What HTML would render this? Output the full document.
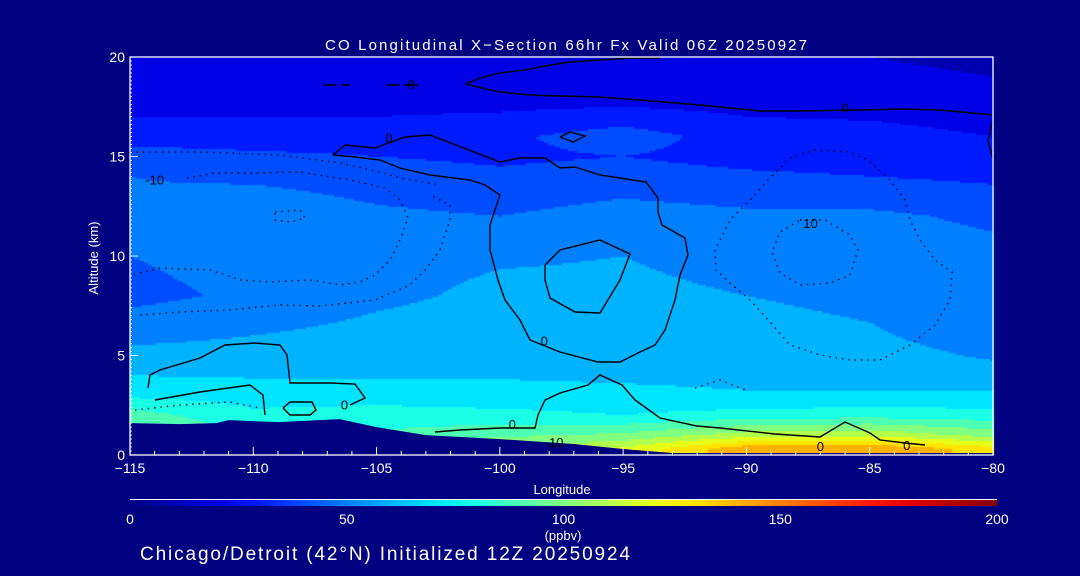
<!DOCTYPE html>
<html><head><meta charset="utf-8"><style>
html,body{margin:0;padding:0;background:#000080;}
#wrap{position:relative;width:1080px;height:576px;background:#000080;overflow:hidden;font-family:"Liberation Sans",sans-serif;}
canvas,svg{position:absolute;left:0;top:0;}
</style></head><body>
<div id="wrap">
<canvas id="field" width="1080" height="576"></canvas>
<svg id="svg" width="1080" height="576"></svg>
</div>
<script>
// ---- data ----
const lons = [-115,-110,-105,-100,-95,-90,-85,-80];
const alts = [20,18,16,15,14,12,10,8,6,5,4,3,2,1,0.3];
const coValues = [
 [22,22,22,22,22,22,20,18],
 [25,25,25,25,25,25,24,22],
 [35,35,35,38,45,35,34,30],
 [45,42,40,38,40,36,35,30],
 [50,48,45,42,45,42,40,38],
 [52,58,52,50,54,52,52,48],
 [50,54,57,59,60,57,56,53],
 [47,52,58,62,62,60,58,54],
 [57,60,63,65,64,63,61,56],
 [63,64,65,67,66,65,63,59],
 [70,69,69,69,68,67,65,63],
 [78,76,76,74,73,71,71,72],
 [95,82,84,83,80,84,86,84],
 [102,92,92,98,102,115,118,106],
 [100,100,100,112,122,148,150,135]
];
const terrainLons = [-115,-113,-111.5,-111,-109,-106.5,-105,-103,-100,-97,-95,-93,-80];
const terrainAlts = [1.6,1.55,1.6,1.75,1.65,1.8,1.4,1.0,0.8,0.55,0.3,0.1,0.1];
const xTicks = [-115,-110,-105,-100,-95,-90,-85,-80];
const yTicks = [0,5,10,15,20];
const cbTicks = [0,50,100,150,200];
const P = (a)=>a.map(p=>[-115+(p[0]-130)*35/863,(455-p[1])*20/398]);
const contourSolid = [
 P([[333,155],[345,145],[375,148],[405,137],[430,135],[500,162],[520,158],[545,158],[560,168],[575,167],[600,175],[620,178],[646,182],[658,198],[658,212],[662,225],[685,238],[688,255],[680,275],[675,300],[665,330],[655,345],[640,352],[620,362],[598,362],[560,352],[530,340],[520,320],[505,300],[498,280],[490,250],[490,225],[500,195],[485,185],[470,180],[430,175],[400,168],[380,160],[355,157],[333,155]]),
 P([[545,265],[560,250],[600,240],[630,254],[620,280],[600,313],[575,312],[550,298],[545,280],[545,265]]),
 P([[465,84],[480,78],[500,73],[525,70],[545,66],[570,62],[600,60],[630,58],[660,58]]),
 P([[465,84],[500,92],[530,95],[560,96],[600,97],[640,100],[700,105],[760,111],[800,111],[860,110],[900,109],[940,110],[993,115]]),
 P([[993,120],[988,140],[993,160]]),
 P([[148,388],[150,375],[160,370],[200,358],[225,345],[255,343],[280,345],[287,355],[290,383],[330,383],[355,384],[365,398],[350,405]]),
 P([[155,400],[200,392],[250,385],[263,395],[265,415]]),
 P([[283,408],[290,402],[312,402],[316,410],[310,415],[290,415],[283,408]]),
 P([[435,432],[460,430],[500,428],[535,428],[538,415],[545,400],[560,393],[588,385],[600,375],[622,385],[635,400],[660,418],[697,426],[720,428],[775,434],[820,437],[845,422],[870,433],[880,440],[905,443],[925,445]]),
 P([[560,137],[570,132],[585,136],[573,142],[560,137]])
];
const contourDashed = [P([[323,85],[350,85]]),P([[386,85],[420,85]])];
const contourDotted = [
 P([[790,158],[815,150],[848,152],[868,160],[890,180],[905,200],[910,220],[920,240],[935,260],[952,272],[950,300],[935,325],[910,345],[880,360],[850,360],[820,355],[790,345],[770,322],[750,300],[730,283],[716,270],[715,250],[730,220],[750,200],[768,180],[790,158]]),
 P([[800,220],[825,220],[850,235],[858,250],[850,275],[830,283],[800,285],[780,273],[772,252],[780,232],[800,220]]),
 P([[130,152],[200,152],[280,155],[340,163],[380,172],[400,178],[440,185]]),
 P([[187,178],[215,173],[250,173],[300,172],[350,180],[385,188],[400,200],[408,218],[400,240],[390,260],[375,275],[360,282],[340,285],[310,280],[270,282],[240,280],[210,270],[160,268],[132,275]]),
 P([[140,315],[180,312],[230,310],[280,305],[320,306],[375,300],[410,285],[425,270],[440,250],[450,220],[450,205],[430,195]]),
 P([[275,212],[300,210],[305,218],[290,222],[275,220],[275,212]]),
 P([[135,410],[180,405],[230,402],[260,408]]),
 P([[695,388],[720,380],[745,390]])
];
const contourLabels = [["0",-103.6,18.6],["0",-86,17.4],["0",-104.5,15.9],["-10",-114,13.8],["0",-98.2,5.7],["0",-106.3,2.5],["0",-99.5,1.5],["-10",-97.8,0.6],["10",-87.4,11.6],["0",-87,0.4],["0",-83.5,0.45]];
// ---- scales ----
const X0=130,X1=993,Y0=455,Y1=57;
const xs = l => X0+(l+115)/35*(X1-X0);
const ys = a => Y0-a/20*(Y0-Y1);
function jet(t){const c=v=>Math.round(255*Math.max(0,Math.min(1,v)));return [c(1.5-Math.abs(4*t-3)),c(1.5-Math.abs(4*t-2)),c(1.5-Math.abs(4*t-1))];}
function val(lon,alt){
 let j=Math.min(lons.length-2,Math.max(0,Math.floor((lon-lons[0])/5)));let fx=(lon-lons[j])/5;
 let i=0;while(i<alts.length-2&&alt<alts[i+1])i++;
 let fy=(alt-alts[i])/(alts[i+1]-alts[i]);fy=Math.max(0,Math.min(1,fy));fx=Math.max(0,Math.min(1,fx));
 const a=coValues[i][j]*(1-fx)+coValues[i][j+1]*fx,b=coValues[i+1][j]*(1-fx)+coValues[i+1][j+1]*fx;
 return a*(1-fy)+b*fy;}
const ctx=document.getElementById('field').getContext('2d');
for(let px=X0;px<X1;px+=2){for(let py=Y1;py<Y0;py+=2){
 const lon=-115+(px+1-X0)/(X1-X0)*35,alt=(Y0-py-1)/(Y0-Y1)*20;
 const v=Math.floor(val(lon,alt)/10)*10;const c=jet(v/200);
 ctx.fillStyle=`rgb(${c[0]},${c[1]},${c[2]})`;ctx.fillRect(px,py,2,2);}}
// ---- svg ----
const NS='http://www.w3.org/2000/svg';const svg=document.getElementById('svg');
function mk(tag,at,parent){const e=document.createElementNS(NS,tag);for(const k in at)e.setAttribute(k,at[k]);(parent||svg).appendChild(e);return e;}
let tp=`M${xs(terrainLons[0])},${Y0} `+terrainLons.map((l,i)=>`L${xs(l)},${ys(terrainAlts[i])}`).join(' ')+` L${xs(-80)},${Y0} Z`;
const terr=mk('path',{d:tp,fill:'#000080'});


function line(pts,dash,name){const e=mk('polyline',{points:pts.map(p=>xs(p[0])+','+ys(p[1])).join(' '),fill:'none',stroke:'#000','stroke-width':1.4});if(dash)e.setAttribute('stroke-dasharray',dash);
 
 }
contourSolid.forEach(c=>line(c,null,'contour-zero'));
contourDashed.forEach(c=>line(c,'14 4','contour-dashed'));
contourDotted.forEach(c=>line(c,'1.4 5','contour-negative'));
contourLabels.forEach(l=>{const t=mk('text',{x:xs(l[1]),y:ys(l[2])+4,'font-size':13,fill:'#000','text-anchor':'middle'});t.textContent=l[0];
 
 });
const fr=mk('rect',{x:X0,y:Y1,width:X1-X0,height:Y0-Y1,fill:'none',stroke:'#fff','stroke-width':1.3});


for(let l=-115;l<=-80;l++){const maj=(l%5===0);mk('line',{x1:xs(l),x2:xs(l),y1:Y0,y2:Y0-(maj?8:4),stroke:'#fff','stroke-width':1});}
for(let a=0;a<=20;a+=0.2){const maj=Math.abs(a-Math.round(a/5)*5)<0.01;mk('line',{x1:X0,x2:X0+(maj?8:2),y1:ys(a),y2:ys(a),stroke:'#fff','stroke-width':0.8});}
xTicks.forEach(l=>{const t=mk('text',{x:xs(l),y:473,'font-size':14,fill:'#fff','text-anchor':'middle'});t.textContent=(l<0?'\u2212':'')+Math.abs(l);
 
 });
yTicks.forEach(a=>{const t=mk('text',{x:X0-5,y:ys(a)+5,'font-size':14,fill:'#fff','text-anchor':'end'});t.textContent=a;
 
 });
function txt(s,x,y,fs,name,extra){const t=mk('text',Object.assign({x:x,y:y,'font-size':fs,fill:'#fff','text-anchor':'middle'},extra||{}));t.textContent=s;
 
 return t;}
txt('CO Longitudinal X\u2212Section 66hr  Fx Valid 06Z 20250927',566,50,15,'chart-title',{'xml:space':'preserve',textLength:482,lengthAdjust:'spacing'});
txt('Longitude',562,494,13,'x-axis-title');
txt('Altitude (km)',98,258,13,'y-axis-title',{transform:'rotate(-90 98 258)'});
const defs=mk('defs',{});const g=mk('linearGradient',{id:'jg',x1:0,x2:1,y1:0,y2:0},defs);
for(let i=0;i<=20;i++){const c=jet(i/20);mk('stop',{offset:i/20,'stop-color':`rgb(${c[0]},${c[1]},${c[2]})`},g);}
const cb=mk('rect',{x:130,y:500,width:867,height:6,fill:'url(#jg)'});


mk('line',{x1:130,x2:997,y1:499.5,y2:499.5,stroke:'#fff','stroke-width':1});
cbTicks.forEach(v=>txt(String(v),130+v/200*867,524,14,'colorbar-tick-label'));
txt('(ppbv)',563,540,13,'colorbar-unit');
txt('Chicago/Detroit (42\u00b0N) Initialized 12Z 20250924',140,560,19,'subtitle',{'text-anchor':'start',textLength:490,lengthAdjust:'spacing'});
</script>
</body></html>
